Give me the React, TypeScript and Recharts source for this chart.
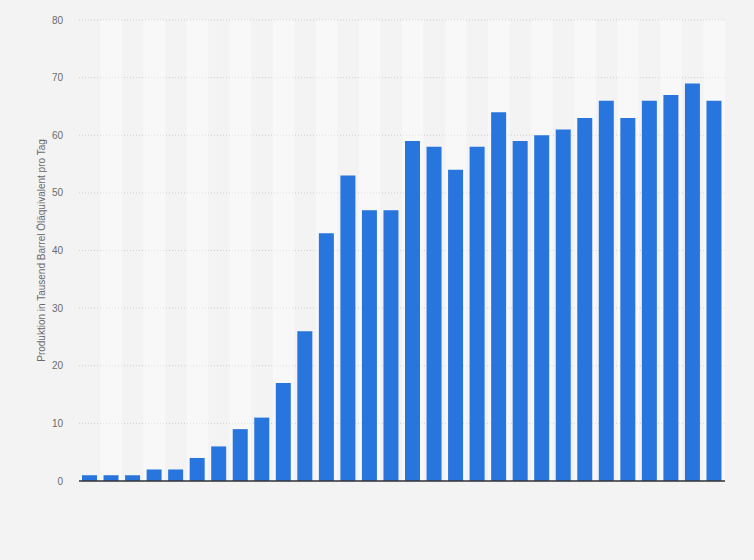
import React from "react"
import { BarChart, Bar, XAxis, YAxis, CartesianGrid, ReferenceArea } from "recharts"

const years = [
  "1991", "1992", "1993", "1994", "1995", "1996", "1997", "1998", "1999", "2000",
  "2001", "2002", "2003", "2004", "2005", "2006", "2007", "2008", "2009", "2010",
  "2011", "2012", "2013", "2014", "2015", "2016", "2017", "2018", "2019", "2020",
]
const production = [
  1, 1, 1, 2, 2, 4, 6, 9, 11, 17,
  26, 43, 53, 47, 47, 59, 58, 54, 58, 64,
  59, 60, 61, 63, 66, 63, 66, 67, 69, 66,
]
const yTicks = [0, 10, 20, 30, 40, 50, 60, 70, 80]

const data = years.map((year, i) => ({ year, value: production[i] }))

const font = "'Liberation Sans', Arial, sans-serif"

export default function App() {
  return (
    <div style={{ position: "absolute", left: 0, top: 0, width: 754, height: 560, background: "#f3f3f3" }}>
      <BarChart
        width={754}
        height={560}
        data={data}
        margin={{ top: 20, right: 29, bottom: 78, left: 0 }}
        barSize={15}
      >
        <CartesianGrid vertical={false} stroke="#cfcfcf" strokeDasharray="1 2" />
        {years.map((y, i) =>
          i % 2 === 1 ? (
            <ReferenceArea key={y} x1={y} x2={y} fill="#ffffff" fillOpacity={0.4} stroke="none" ifOverflow="visible" />
          ) : null
        )}
        <XAxis
          dataKey="year"
          tick={false}
          tickLine={false}
          height={1}
          axisLine={{ stroke: "#333333", strokeWidth: 1.5 }}
        />
        <YAxis
          width={79}
          domain={[0, 80]}
          ticks={yTicks}
          axisLine={false}
          tickLine={false}
          tickMargin={10}
          tick={{ fill: "#6b6b6b", fontSize: 10, fontFamily: font }}
          label={{
            value: "Produktion in Tausend Barrel Öläquivalent pro Tag",
            angle: -90,
            position: "insideLeft",
            dx: 36,
            style: { fill: "#6b6b6b", fontSize: 10, fontFamily: font, textAnchor: "middle" },
          }}
        />
        <Bar dataKey="value" fill="#2876dd" isAnimationActive={false} />
      </BarChart>
    </div>
  )
}
